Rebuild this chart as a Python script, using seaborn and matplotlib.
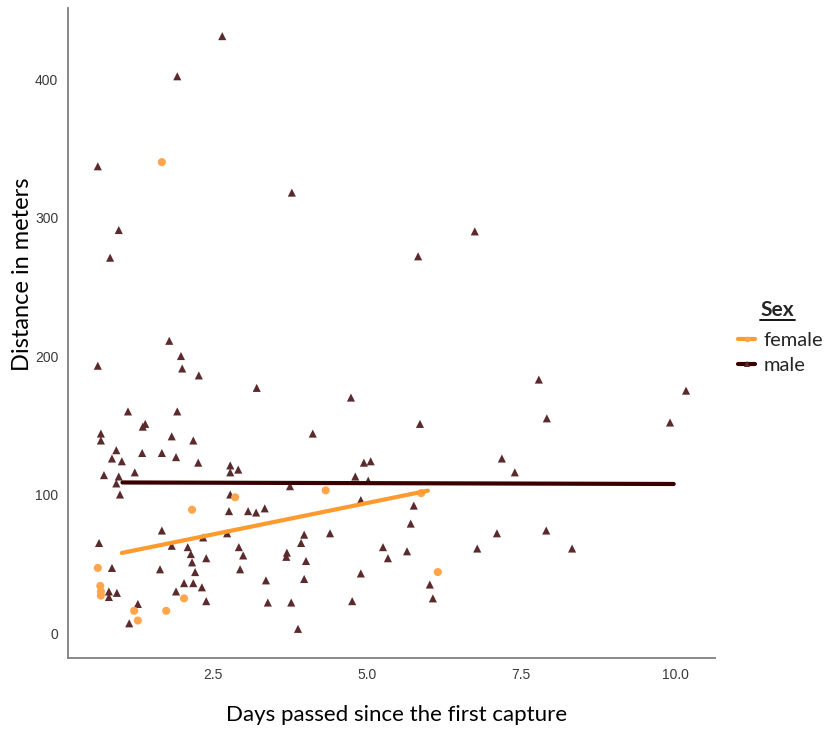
import pandas as pd
import seaborn as sns
import matplotlib.pyplot as plt
from matplotlib.lines import Line2D

# Points (days, metres)
male_days = [2.65, 1.92, 0.63, 0.97, 3.78, 6.75, 5.83, 0.83, 4.74, 0.63, 1.79, 1.98, 2.00, 2.27, 3.21,
             7.79, 10.18, 7.92, 9.92, 7.19, 7.40, 7.11, 7.91, 8.33, 6.79, 5.86, 4.12, 4.95, 5.06, 4.81,
             5.02, 4.90, 5.76, 5.71, 4.40, 5.26, 5.65, 5.34, 4.90, 6.02, 6.07, 4.76, 3.98, 3.93, 3.70,
             3.69, 4.01, 3.98, 3.77, 3.88, 3.36, 3.39, 3.75, 3.34, 3.20, 3.07, 2.76, 2.78, 2.78, 2.91,
             2.78, 2.73, 2.92, 2.99, 2.94, 2.34, 2.39, 2.39, 2.32, 2.21, 2.16, 2.14, 2.09, 1.83, 1.67,
             1.64, 2.03, 2.18, 1.90, 1.28, 1.14, 0.81, 0.81, 0.94, 0.86, 0.65, 0.99, 0.93, 0.97, 0.73,
             1.23, 0.86, 1.02, 0.93, 1.35, 1.67, 1.90, 2.26, 0.68, 0.68, 1.83, 2.18, 1.36, 1.40, 1.12,
             1.92]
male_dist = [431, 402, 337, 291, 318, 290, 272, 271, 170, 193, 211, 200, 191, 186, 177,
             183, 175, 155, 152, 126, 116, 72, 74, 61, 61, 151, 144, 123, 124, 113,
             110, 96, 92, 79, 72, 62, 59, 54, 43, 35, 25, 23, 71, 65, 58,
             55, 52, 39, 22, 3, 38, 22, 106, 90, 87, 88, 88, 100, 121, 118,
             116, 72, 62, 56, 46, 69, 54, 23, 33, 44, 51, 57, 62, 63, 74,
             46, 36, 36, 30, 21, 7, 30, 26, 29, 47, 65, 100, 108, 113, 114,
             116, 126, 124, 132, 130, 130, 127, 123, 144, 139, 142, 139, 149, 151, 160,
             160]
female_days = [1.67, 2.86, 2.16, 0.63, 0.67, 0.68, 0.68, 2.03, 1.22, 1.74, 1.28, 4.33, 6.15, 5.88]
female_dist = [340, 98, 89, 47, 34, 30, 27, 25, 16, 16, 9, 103, 44, 101]

# Fitted lines (end points)
male_line_days = [1.03, 9.98]
male_line_dist = [108.7, 107.6]
female_line_days = [1.02, 5.99]
female_line_dist = [57.8, 102.8]

pts = pd.DataFrame({
    'days': male_days + female_days,
    'dist': male_dist + female_dist,
    'sex': ['male'] * len(male_days) + ['female'] * len(female_days),
})
lines = pd.DataFrame({
    'days': male_line_days + female_line_days,
    'dist': male_line_dist + female_line_dist,
    'sex': ['male', 'male', 'female', 'female'],
})

point_colors = {'female': '#FFA64D', 'male': '#5A2A2C'}
line_colors = {'female': '#FF9A2E', 'male': '#3A0000'}

sns.set_style('white')
plt.rcParams['font.family'] = ['Lato', 'DejaVu Sans']

fig = plt.figure(figsize=(8.29, 7.31), dpi=100)
ax = fig.add_axes([68 / 829, 73 / 731, 647 / 829, 650 / 731])

sns.scatterplot(data=pts, x='days', y='dist', hue='sex', style='sex',
                markers={'female': 'o', 'male': '^'}, palette=point_colors,
                s=34, linewidth=0, legend=False, ax=ax, zorder=2)
sns.lineplot(data=lines, x='days', y='dist', hue='sex', palette=line_colors,
             linewidth=3, legend=False, ax=ax, zorder=3)

ax.set_xlim(0.146, 10.65)
ax.set_ylim(-18.05, 451.3)
ax.set_xticks([2.5, 5.0, 7.5, 10.0])
ax.set_xticklabels(['2.5', '5.0', '7.5', '10.0'])
ax.set_yticks([0, 100, 200, 300, 400])

for side in ['top', 'right']:
    ax.spines[side].set_visible(False)
for side in ['left', 'bottom']:
    ax.spines[side].set_color('#808080')
    ax.spines[side].set_linewidth(1.3)

ax.tick_params(axis='both', length=4, width=1, color='#333333', labelcolor='#3A3A3A',
               labelsize=10, pad=3)
for lab in ax.get_xticklabels() + ax.get_yticklabels():
    lab.set_family(['Liberation Sans Narrow', 'Liberation Sans', 'DejaVu Sans'])

ax.set_xlabel('Days passed since the first capture', fontsize=16, color='black')
ax.set_ylabel('Distance in meters', fontsize=17, color='black')
ax.xaxis.set_label_coords(0.508, -0.072)
ax.yaxis.set_label_coords(-0.054, 0.59)

# Legend
handles = [
    Line2D([0], [0], color=line_colors['female'], lw=3, marker='o', markersize=4,
           markerfacecolor=point_colors['female'], markeredgewidth=0),
    Line2D([0], [0], color=line_colors['male'], lw=3, marker='^', markersize=4,
           markerfacecolor=point_colors['male'], markeredgewidth=0),
]
fig.legend(handles, ['female', 'male'], loc='upper left',
           bbox_to_anchor=(730 / 829, 1 - 324 / 731), frameon=False, fontsize=14.5,
           handlelength=0.85, handletextpad=0.4, labelspacing=0.4, borderaxespad=0)
fig.text(760 / 829, 1 - 316 / 731, 'Sex', fontsize=15, fontweight='bold', ha='left', va='baseline')
fig.add_artist(Line2D([760 / 829, 795 / 829], [1 - 320 / 731, 1 - 320 / 731],
                      color='black', lw=1.3, transform=fig.transFigure))

fig.savefig('out.png', dpi=100)
